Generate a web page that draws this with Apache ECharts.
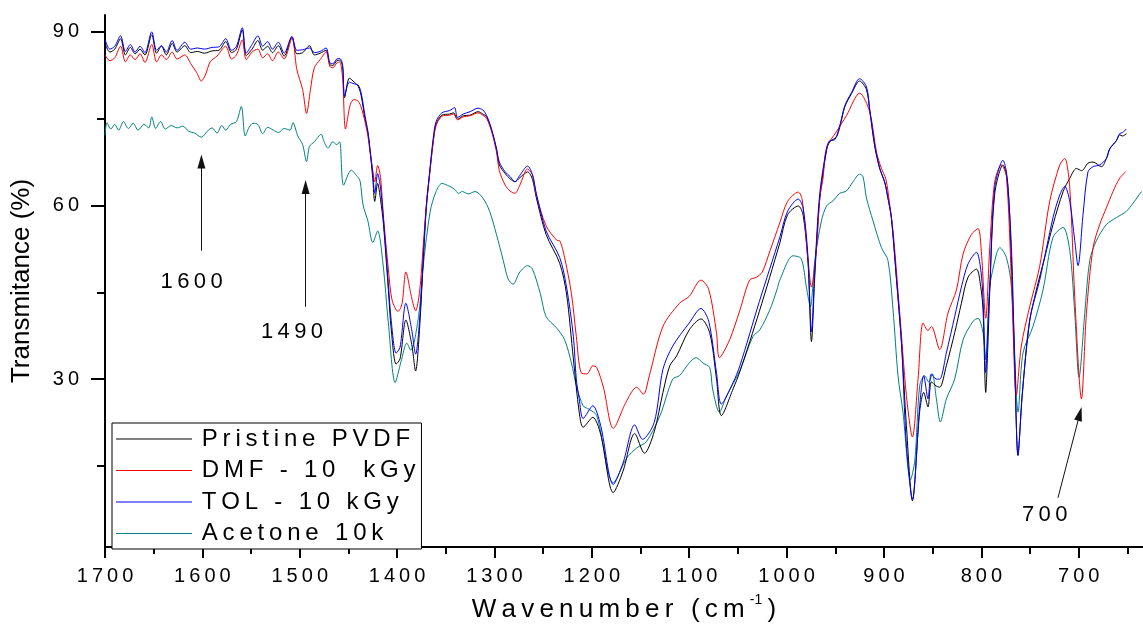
<!DOCTYPE html>
<html><head><meta charset="utf-8">
<script src="https://cdn.jsdelivr.net/npm/echarts@6/dist/echarts.min.js"></script>
<style>html,body{margin:0;padding:0;background:#fff}#c{width:1143px;height:628px}</style>
</head><body><div id="c"></div>
<script>
// ---- data: [wavenumber (cm-1), transmittance (%)] ----
const pristinePVDF = [[1700,88.0],[1695,86.5],[1690,87.0],[1684,88.8],[1679,86.0],[1674,87.3],[1669,86.2],[1664,87.0],[1659,86.0],[1652,89.5],[1647,86.3],[1642,87.5],[1637,86.0],[1631,88.0],[1626,86.5],[1618,87.6],[1612,86.4],[1605,86.6],[1598,86.3],[1590,86.7],[1583,86.8],[1576,88.3],[1570,86.4],[1565,87.0],[1559,90.3],[1555,85.9],[1549,87.0],[1543,88.5],[1538,86.8],[1533,87.5],[1528,86.4],[1522,87.6],[1516,85.8],[1508,89.0],[1503,86.2],[1497,86.4],[1490,87.6],[1485,86.0],[1479,86.3],[1473,86.8],[1469,84.3],[1466,84.2],[1462,85.0],[1459,85.1],[1456,84.0],[1454,78.6],[1449,82.0],[1444,81.3],[1440,80.6],[1437,79.0],[1433,75.0],[1430,72.5],[1428,69.8],[1425,64.7],[1423,60.7],[1420,63.8],[1417,61.0],[1414,56.7],[1409,45.4],[1406,38.5],[1401,32.6],[1397,33.5],[1391,40.2],[1385,36.0],[1381,31.4],[1377,38.6],[1373,51.0],[1370,59.6],[1366,66.4],[1363,71.0],[1360,74.0],[1354,75.6],[1346,75.8],[1342,76.0],[1338,74.9],[1332,75.5],[1325,75.6],[1317,76.2],[1312,75.8],[1308,75.3],[1303,73.0],[1298,69.8],[1295,67.0],[1289,65.5],[1284,64.6],[1279,64.1],[1274,64.8],[1266,65.8],[1261,64.5],[1257,61.3],[1247,55.0],[1233,50.0],[1226,44.7],[1219,33.5],[1213,24.3],[1209,21.7],[1199,23.4],[1191,20.5],[1178,10.4],[1168,14.1],[1156,20.6],[1146,17.2],[1136,20.9],[1127,27.7],[1120,32.3],[1113,34.0],[1100,38.5],[1088,40.4],[1079,38.0],[1072,30.0],[1067,23.7],[1055,28.3],[1048,31.3],[1028,41.7],[1007,53.5],[999,58.4],[988,59.9],[983,58.3],[978,50.0],[974.5,36.5],[971,48.0],[966,61.0],[959,69.5],[955.7,71.0],[949,71.8],[945.4,73.5],[940.3,77.0],[933.4,79.3],[925,81.5],[918,80.0],[914.6,76.3],[909.5,70.2],[904.3,66.3],[899.3,64.0],[895.9,61.3],[892.4,57.8],[887.3,47.5],[882,36.2],[877,22.0],[870.8,9.0],[863.3,24.5],[859.2,27.7],[854.8,25.2],[851.3,29.5],[846.2,28.8],[842.8,28.6],[836,32.3],[827.4,38.0],[820.5,43.1],[813.7,47.6],[805,49.0],[800.7,46.0],[798.3,42.0],[795.5,27.7],[793.5,35.0],[791.4,45.0],[786.3,62.0],[777.8,67.0],[773,64.0],[769.1,50.0],[765.7,32.0],[762.4,16.8],[758,27.5],[750.4,40.0],[743.5,45.4],[735,51.0],[726.4,56.7],[716,62.4],[709.2,64.7],[702.3,66.4],[697,66.0],[690.5,67.3],[685.3,67.5],[676.7,66.7],[671.6,68.1],[668.2,69.8],[661.3,71.2],[658,72.2],[655,72.0],[651,72.4]];

const dmf10kGy = [[1700,86.0],[1695,85.0],[1690,85.5],[1684,87.5],[1679,84.8],[1674,86.0],[1669,85.2],[1664,86.2],[1659,84.7],[1652,87.8],[1647,84.8],[1642,86.0],[1637,85.2],[1631,86.5],[1626,85.3],[1618,86.0],[1612,84.5],[1606,83.0],[1601,81.5],[1597,82.5],[1592,84.8],[1585,85.8],[1576,87.5],[1570,85.3],[1565,86.0],[1559,88.6],[1555,85.2],[1549,86.5],[1543,87.0],[1538,85.5],[1533,86.2],[1528,85.0],[1522,86.5],[1516,85.3],[1508,89.0],[1503,83.5],[1497,80.0],[1493,75.9],[1489,80.0],[1485,83.8],[1479,85.2],[1473,86.5],[1469,84.0],[1466,83.8],[1462,84.6],[1459,84.8],[1456,82.0],[1453,73.2],[1448,77.5],[1444,78.3],[1440,78.0],[1437,77.0],[1433,74.5],[1430,72.0],[1428,69.5],[1425,66.0],[1423,64.1],[1420,66.9],[1417,64.8],[1414,58.0],[1409,49.0],[1405,43.5],[1399,41.7],[1395,43.0],[1391,48.5],[1385,44.0],[1381,41.8],[1377,45.0],[1373,53.5],[1370,60.0],[1366,66.4],[1363,70.8],[1360,73.8],[1354,75.4],[1346,75.6],[1342,75.8],[1338,74.8],[1332,75.3],[1325,75.5],[1317,76.0],[1312,75.6],[1308,75.0],[1303,72.8],[1298,69.3],[1295,66.0],[1289,63.5],[1284,62.5],[1279,62.1],[1274,63.5],[1266,66.3],[1261,65.3],[1257,61.8],[1247,56.5],[1236,54.0],[1233,53.9],[1228,51.0],[1221,44.8],[1216,37.4],[1211,31.1],[1205,30.9],[1199,32.3],[1195,32.0],[1188,28.5],[1178,21.5],[1165,26.0],[1154,28.6],[1147,27.4],[1141,30.6],[1127,39.1],[1110,43.1],[1100,44.3],[1088,47.1],[1080,45.5],[1072,38.0],[1069,33.7],[1058.5,36.8],[1048,41.9],[1038,47.1],[1031,47.6],[1025,48.5],[1017,52.2],[1007,57.0],[999,60.7],[988,62.3],[984,61.0],[978,50.5],[974.5,45.9],[969,53.3],[966,61.3],[962.6,64.7],[959,70.0],[949,72.7],[938.6,75.5],[925,79.4],[914.6,76.1],[907.7,69.2],[902.6,66.4],[898,64.5],[894,60.0],[890.7,55.6],[883.8,41.4],[877,27.2],[870.8,20.0],[865,30.0],[859.9,39.7],[854.8,38.4],[851.3,39.1],[842.8,35.1],[834.3,41.4],[825.6,45.4],[818.8,51.6],[810.2,55.0],[803.4,56.0],[800,52.0],[795.5,40.5],[791.4,52.7],[786.3,64.1],[779.4,67.0],[774.3,65.0],[769.1,47.1],[764,27.2],[759,35.7],[750.4,42.5],[740.1,49.5],[729.8,60.7],[719.5,67.0],[714.4,68.1],[709.2,63.0],[704.1,44.2],[697.2,26.6],[692.1,41.4],[685.3,52.7],[678.5,56.7],[671.6,59.6],[664.8,62.4],[658,64.7],[651.8,65.8]];

const tol10kGy = [[1700,88.7],[1695,87.0],[1690,87.5],[1684,89.3],[1679,86.6],[1674,87.8],[1669,86.5],[1664,87.5],[1659,86.4],[1652,90.0],[1647,86.8],[1642,87.6],[1637,86.5],[1631,88.5],[1626,86.8],[1618,88.2],[1612,87.0],[1605,87.2],[1598,87.0],[1590,87.3],[1583,87.4],[1576,88.8],[1570,86.8],[1565,87.5],[1559,90.7],[1555,86.3],[1549,87.8],[1543,89.3],[1538,87.5],[1533,88.3],[1528,87.0],[1522,88.2],[1516,86.3],[1508,89.2],[1503,86.8],[1497,86.9],[1490,87.2],[1485,86.4],[1479,86.6],[1473,87.2],[1469,84.6],[1466,84.5],[1462,85.3],[1459,85.4],[1456,84.3],[1454,78.9],[1449,81.3],[1444,81.0],[1440,80.8],[1437,79.5],[1433,75.5],[1430,72.8],[1428,70.0],[1425,65.5],[1423,62.1],[1420,65.5],[1417,63.0],[1414,57.5],[1409,46.5],[1406,40.0],[1401,34.5],[1397,35.5],[1391,43.1],[1385,38.5],[1381,34.3],[1377,40.0],[1373,51.5],[1370,60.0],[1366,66.8],[1363,71.5],[1360,74.5],[1354,76.0],[1346,76.4],[1341,76.9],[1338,75.2],[1332,75.8],[1325,76.2],[1317,76.8],[1312,76.5],[1308,75.5],[1303,73.2],[1298,69.8],[1295,67.5],[1289,65.8],[1284,65.0],[1279,64.1],[1274,65.2],[1266,66.8],[1261,65.3],[1257,62.0],[1247,55.6],[1233,51.0],[1226,45.9],[1219,37.4],[1216,30.0],[1213,26.6],[1209,23.2],[1199,25.4],[1191,22.0],[1178,11.8],[1168,15.5],[1156,22.1],[1148,19.6],[1136,22.5],[1127,31.7],[1117,35.7],[1100,39.7],[1088,42.2],[1080,40.0],[1072,31.1],[1067,25.7],[1055,29.4],[1048,32.3],[1028,43.4],[1007,54.5],[999,59.0],[988,61.1],[983,59.5],[978,51.0],[974.5,38.2],[971,49.0],[966,62.0],[959,69.8],[955.7,71.2],[951,71.3],[945.4,73.8],[940.3,77.2],[933.4,79.5],[925,81.9],[918,80.5],[914.6,76.6],[909.5,70.4],[904.3,66.4],[899.3,64.1],[896,61.3],[892.4,57.9],[887.3,47.6],[882,36.2],[877,18.6],[870.8,9.2],[863.3,25.4],[859.2,30.6],[854.8,26.6],[851.3,30.9],[846.2,30.0],[842.8,30.0],[836,34.5],[827.4,40.8],[820.5,45.9],[813.7,49.9],[805,51.9],[800.7,49.0],[798.3,44.0],[795.5,31.1],[793.5,38.0],[791.4,46.0],[786.3,63.0],[777.8,67.8],[774,65.5],[769.1,52.7],[765.7,32.8],[762.4,16.9],[758,27.2],[750.4,40.2],[740.1,47.1],[726.4,57.9],[719.5,61.8],[714.4,63.3],[709.2,60.7],[704.1,53.9],[700.7,49.6],[695.6,58.4],[690.5,65.8],[685.3,66.7],[678.5,67.0],[671.6,68.1],[668,69.8],[661.3,71.2],[658,72.4],[655,72.6],[651,73.2]];

const acetone10k = [[1700,72.1],[1698,74.3],[1694,73.2],[1690,74.0],[1686,73.0],[1681,74.5],[1676,73.3],[1671,74.2],[1666,73.0],[1660,74.0],[1655,73.4],[1652,75.3],[1648,73.3],[1643,74.5],[1638,73.2],[1632,73.8],[1626,73.4],[1620,73.7],[1614,72.8],[1608,72.5],[1601,71.8],[1595,72.8],[1590,73.4],[1585,72.5],[1580,73.8],[1576,73.0],[1571,74.0],[1565,74.5],[1560,77.1],[1556,72.0],[1552,73.5],[1548,74.2],[1543,74.0],[1538,72.4],[1533,73.5],[1527,73.0],[1522,72.6],[1516,73.3],[1510,73.0],[1507,74.3],[1502,72.0],[1497,70.5],[1493,67.6],[1490,70.2],[1485,71.0],[1478,72.3],[1475,71.0],[1471,69.9],[1466,71.0],[1462,70.5],[1459,71.0],[1455,63.5],[1447,66.1],[1441,65.0],[1438,64.2],[1435,60.1],[1430,57.3],[1425,53.6],[1420,55.6],[1414.5,49.9],[1409,39.7],[1402,29.4],[1396,33.0],[1390,36.2],[1386,35.0],[1378,40.8],[1373,49.9],[1366,59.0],[1360,62.4],[1354,63.8],[1346,63.3],[1341,62.8],[1337,62.1],[1333,62.4],[1327,62.0],[1320,62.4],[1312,61.3],[1305,59.0],[1298,55.0],[1291,50.5],[1286,47.3],[1281,46.4],[1274,48.5],[1266,49.6],[1261,49.0],[1253,44.8],[1247,40.8],[1236,38.8],[1228,36.8],[1221,32.8],[1216,28.9],[1209,25.4],[1203,24.8],[1195,23.7],[1178,12.1],[1164,16.4],[1154,18.1],[1144,19.2],[1130,23.7],[1117,30.0],[1110,30.6],[1100,32.8],[1093,33.7],[1086,32.8],[1079,32.0],[1076,28.3],[1069,24.3],[1062,27.0],[1048,31.5],[1034.5,37.4],[1027.6,38.5],[1017.4,41.9],[1010,45.4],[1007,47.1],[993.4,51.3],[985,50.8],[979.7,45.9],[975.6,42.5],[971,50.5],[964.3,57.3],[959,59.9],[952.4,60.8],[945.4,62.1],[938.6,62.5],[931.8,64.1],[925,65.4],[921.6,65.0],[918,61.3],[911.2,57.3],[902.6,52.7],[895.9,50.5],[890.7,42.0],[885.6,30.6],[880.5,24.3],[872.8,12.6],[868.3,16.0],[863.3,28.9],[858.2,30.6],[854,29.5],[850.3,30.9],[846.2,26.6],[842.1,22.6],[835.9,26.6],[827.4,30.0],[818.8,36.8],[808.5,40.0],[803.4,40.5],[798.3,38.0],[795.5,33.4],[791.4,45.9],[784.5,51.6],[781.1,52.7],[774.3,51.0],[769.1,45.9],[764,27.2],[762.4,24.3],[757.3,34.5],[747,39.1],[736.7,45.4],[726.4,54.5],[716.1,56.2],[709.2,52.2],[704.1,41.4],[699.7,30.3],[693.8,41.4],[688.7,50.5],[681.9,53.9],[671.6,56.7],[661.3,57.9],[651,59.0],[644.2,60.4],[635.6,62.4]];

const seriesNames = ['Pristine PVDF', 'DMF - 10  kGy', 'TOL - 10 kGy', 'Acetone 10k'];
const xMajorTicks = [700, 800, 900, 1000, 1100, 1200, 1300, 1400, 1500, 1600, 1700];
const xMinorTicks = [650, 750, 850, 950, 1050, 1150, 1250, 1350, 1450, 1550, 1650];
const yMajorTicks = [30, 60, 90];
const yMinorTicks = [15, 45, 75];
// annotation labels (wavenumber marked), label anchor, arrow tail, arrow head (data coords)
const annotationLabels = ['1600', '1490', '700'];
const annotationTextAt = [[1611, 46.8], [1508, 38.1], [735, 6.5]];
const annotationFrom = [[1601, 52.2], [1494, 42.5], [721.3, 9.5]];
const annotationTo = [[1601, 67.6], [1494, 63.2], [698.9, 24.0]];

// ---- chart ----
const FONT = '"Liberation Sans", Arial, Helvetica, sans-serif';
const sp = (s, sep) => Array.from(String(s)).join(sep === undefined ? '\u2009' : sep);
const colors = ['#000000', '#ff0000', '#0000ff', '#008080'];
const datasets = [pristinePVDF, dmf10kGy, tol10kGy, acetone10k];

const chart = echarts.init(document.getElementById('c'), null, {renderer: 'canvas'});

const lineSeries = datasets.map((d, i) => ({
  type: 'line', name: seriesNames[i], data: d, xAxisIndex: 0, yAxisIndex: 0,
  symbol: 'none', showSymbol: false, smooth: 0.3,
  color: colors[i], lineStyle: {width: 1, color: colors[i]},
  emphasis: {disabled: true}, silent: true, z: i === 3 ? 2 : 3
}));

lineSeries[3].markLine = {
  silent: true, symbol: ['none', 'triangle'], symbolSize: [8, 14],
  lineStyle: {color: '#111', width: 1, type: 'solid'},
  itemStyle: {color: '#000'},
  label: {show: false}, emphasis: {disabled: true},
  data: annotationFrom.map((f, i) => [{coord: f}, {coord: annotationTo[i]}])
};
lineSeries[3].markPoint = {
  silent: true, symbol: 'circle', symbolSize: 1,
  itemStyle: {color: 'rgba(0,0,0,0)'},
  label: {show: true, position: 'inside', color: '#000', fontSize: 22, fontFamily: FONT,
          formatter: p => sp(p.name)},
  data: annotationLabels.map((t, i) => ({name: t, coord: annotationTextAt[i]}))
};

const option = {
  animation: false,
  backgroundColor: '#ffffff',
  textStyle: {fontFamily: FONT, color: '#000'},
  grid: {left: 105, right: 0, top: 15, bottom: 75, containLabel: false},
  legend: {
    data: seriesNames, orient: 'vertical', left: 112, top: 423,
    icon: 'rect', itemWidth: 76, itemHeight: 1, itemGap: 7.5,
    padding: [4, 6, 3.5, 4],
    borderColor: '#000', borderWidth: 1, backgroundColor: '#ffffff',
    selectedMode: false,
    formatter: n => '\u2009' + sp(n),
    textStyle: {fontSize: 24, fontFamily: FONT, color: '#000'}
  },
  xAxis: [{
    type: 'value', min: 634, max: 1700, inverse: true, position: 'bottom',
    axisLine: {show: true, onZero: false, lineStyle: {color: '#000', width: 2}},
    axisTick: {show: true, length: 11, lineStyle: {color: '#000', width: 2}, customValues: xMajorTicks},
    axisLabel: {customValues: xMajorTicks, formatter: v => sp(v), color: '#000', fontSize: 20, fontFamily: FONT, margin: 19},
    splitLine: {show: false},
    name: '{a|' + sp('Wavenumber (cm') + '\u2009}{s|' + sp('-1', '') + '}{a|\u2009)}',
    nameLocation: 'middle', nameGap: 46,
    nameTextStyle: {
      fontSize: 26, fontFamily: FONT, color: '#000',
      rich: {
        a: {fontSize: 26, fontFamily: FONT, color: '#000', lineHeight: 34},
        s: {fontSize: 14, fontFamily: FONT, color: '#000', verticalAlign: 'top', lineHeight: 14}
      }
    }
  }, {
    type: 'value', min: 634, max: 1700, inverse: true, position: 'bottom',
    axisLine: {show: false, onZero: false},
    axisTick: {show: true, length: 7, lineStyle: {color: '#000', width: 2}, customValues: xMinorTicks},
    axisLabel: {show: false}, splitLine: {show: false}
  }],
  yAxis: [{
    type: 'value', min: 1, max: 92.9, position: 'left',
    axisLine: {show: true, onZero: false, lineStyle: {color: '#000', width: 2}},
    axisTick: {show: true, length: 14, lineStyle: {color: '#000', width: 2}, customValues: yMajorTicks},
    axisLabel: {customValues: yMajorTicks, formatter: v => sp(v), color: '#000', fontSize: 20, fontFamily: FONT, margin: 26},
    splitLine: {show: false},
    name: 'Transmitance (%)', nameLocation: 'middle', nameGap: 70,
    nameTextStyle: {fontSize: 26, fontFamily: FONT, color: '#000'}
  }, {
    type: 'value', min: 1, max: 92.9, position: 'left',
    axisLine: {show: false, onZero: false},
    axisTick: {show: true, length: 8, lineStyle: {color: '#000', width: 2}, customValues: yMinorTicks},
    axisLabel: {show: false}, splitLine: {show: false}
  }],
  series: lineSeries
};
chart.setOption(option);
</script></body></html>
